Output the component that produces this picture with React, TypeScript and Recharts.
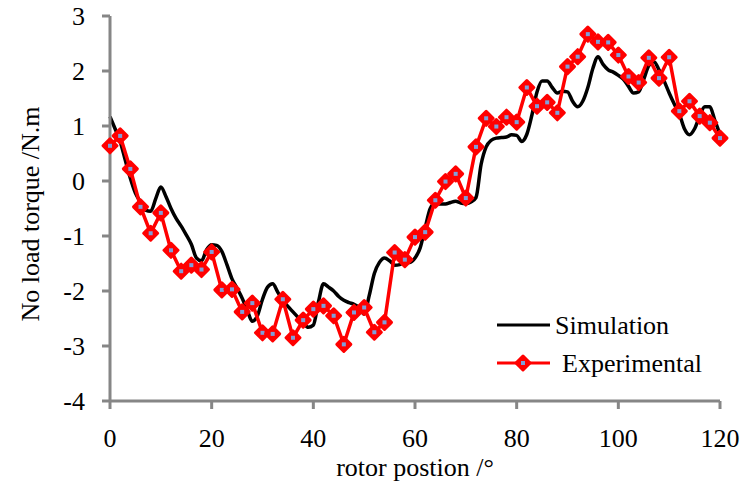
import React from 'react';
import { LineChart, Line, XAxis, YAxis, Label } from 'recharts';

const FONT = '"Liberation Serif", "Times New Roman", serif';

// simulation curve, 1 degree steps from 0 to 120
const simX = Array.from({ length: 121 }, (_, i) => i);
const simY = [
  1.17, 0.95, 0.72, 0.38, 0.05, -0.22, -0.38, -0.53, -0.55, -0.32,
  -0.11, -0.28, -0.5, -0.68, -0.82, -0.98, -1.15, -1.4, -1.45, -1.25,
  -1.16, -1.17, -1.28, -1.52, -1.78, -1.95, -2.13, -2.35, -2.55, -2.45,
  -2.15, -1.93, -1.87, -2.02, -2.17, -2.28, -2.38, -2.48, -2.58, -2.66,
  -2.62, -2.2, -1.87, -1.93, -2.0, -2.1, -2.17, -2.21, -2.24, -2.3,
  -2.42, -2.08, -1.68, -1.48, -1.4, -1.45, -1.53, -1.52, -1.48, -1.48,
  -1.4, -1.22, -0.85, -0.5, -0.4, -0.42, -0.42, -0.39, -0.37, -0.4,
  -0.41, -0.38, -0.3, 0.3, 0.62, 0.74, 0.78, 0.79, 0.8, 0.84,
  0.83, 0.72, 0.85, 1.2, 1.62, 1.82, 1.82, 1.7, 1.6, 1.63,
  1.62, 1.45, 1.35, 1.45, 1.7, 2.05, 2.26, 2.12, 2.02, 1.98,
  1.92, 1.85, 1.72, 1.6, 1.62, 1.85, 2.1, 2.17, 2.02, 1.82,
  1.6, 1.4, 1.22, 0.95, 0.84, 0.95, 1.18, 1.35, 1.35, 1.1,
  0.85,
];

// measured points every 2 degrees
const expX = Array.from({ length: 61 }, (_, i) => i * 2);
const expY = [
  0.64, 0.82, 0.22, -0.47, -0.95, -0.58, -1.26, -1.64, -1.53, -1.61,
  -1.29, -1.98, -1.97, -2.38, -2.22, -2.76, -2.78, -2.15, -2.85, -2.53,
  -2.33, -2.27, -2.45, -2.97, -2.39, -2.3, -2.75, -2.57, -1.3, -1.43,
  -1.02, -0.93, -0.35, -0.01, 0.13, -0.31, 0.62, 1.14, 0.99, 1.16,
  1.07, 1.7, 1.36, 1.43, 1.24, 2.08, 2.26, 2.67, 2.53, 2.52,
  2.29, 1.9, 1.79, 2.24, 1.87, 2.25, 1.27, 1.45, 1.18, 1.06,
  0.78,
];

const xTicks = [0, 20, 40, 60, 80, 100, 120];
const yTicks = [-4, -3, -2, -1, 0, 1, 2, 3];

const simData = simX.map((x, i) => ({ x, sim: simY[i] }));
const expData = expX.map((x, i) => ({ x, exp: expY[i] }));

const Diamond = (props: any) => {
  const { cx, cy } = props;
  if (cx == null || cy == null) return null;
  const r = 7;
  return (
    <g>
      <polygon
        points={`${cx},${cy - r} ${cx + r},${cy} ${cx},${cy + r} ${cx - r},${cy}`}
        fill="#FF0000"
        stroke="#FF0000"
        strokeWidth={3}
        strokeLinejoin="round"
      />
      <rect x={cx - 2} y={cy - 2} width={4} height={4} fill="#7F9FDA" />
    </g>
  );
};

// legend drawn as an overlay so it doesn't eat plot space
const LegendBox = () => (
  <svg width={240} height={80} style={{ fontFamily: FONT, display: 'block' }}>
    <line x1={7} y1={20} x2={60} y2={20} stroke="#000" strokeWidth={3} />
    <text x={65} y={29} fontSize={26} fill="#000">Simulation</text>
    <line x1={7} y1={58} x2={60} y2={58} stroke="#FF0000" strokeWidth={3} />
    <Diamond cx={33} cy={58} />
    <text x={72} y={67} fontSize={26} fill="#000">Experimental</text>
  </svg>
);

const tickStyle = { fontSize: 26, fill: '#000', fontFamily: FONT };

export default function App() {
  return (
    <div style={{ position: 'absolute', left: 0, top: 0, width: 745, height: 490, background: '#fff' }}>
      <LineChart width={745} height={490} margin={{ top: 16, right: 25, bottom: 0, left: 0 }}>
        <XAxis
          dataKey="x"
          type="number"
          domain={[0, 120]}
          ticks={xTicks}
          allowDuplicatedCategory={false}
          height={89}
          stroke="#868686"
          strokeWidth={3}
          tickSize={8}
          tickMargin={20}
          tick={tickStyle}
        >
          <Label
            value="rotor postion /°"
            position="insideBottom"
            offset={14}
            style={{ fontSize: 26, fill: '#000', fontFamily: FONT }}
          />
        </XAxis>
        <YAxis
          type="number"
          domain={[-4, 3]}
          ticks={yTicks}
          width={110}
          stroke="#868686"
          strokeWidth={3}
          tickSize={8}
          tickMargin={17}
          tick={tickStyle}
          label={{
            content: () => (
              <text
                x={30}
                y={214}
                transform="rotate(-90 30 214)"
                textAnchor="middle"
                dominantBaseline="central"
                fontSize={26}
                fill="#000"
                fontFamily={FONT}
              >
                No load torque /N.m
              </text>
            ),
          }}
        />
        <Line
          data={simData}
          dataKey="sim"
          name="Simulation"
          type="monotone"
          stroke="#000000"
          strokeWidth={3.5}
          dot={false}
          isAnimationActive={false}
        />
        <Line
          data={expData}
          dataKey="exp"
          name="Experimental"
          type="linear"
          stroke="#FF0000"
          strokeWidth={3.5}
          dot={<Diamond />}
          activeDot={false}
          isAnimationActive={false}
        />
      </LineChart>
      <div style={{ position: 'absolute', left: 490, top: 305 }}>
        <LegendBox />
      </div>
    </div>
  );
}
